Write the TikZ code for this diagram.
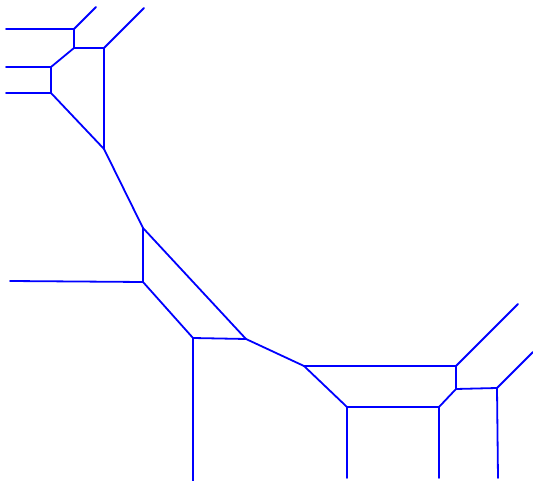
\documentclass[tikz,border=0pt]{standalone}
\usepackage{tikz}
\usetikzlibrary{calc}
\definecolor{edgeblue}{HTML}{0000FF}
\tikzset{
  vedge/.style={edgeblue, line width=1.8pt, line cap=round, line join=round},
}
\begin{document}
\begin{tikzpicture}[x=1pt,y=-1pt]
  \useasboundingbox (0,0) rectangle (533,481);
  % inner vertices
  \coordinate (a) at (74,29);
  \coordinate (b) at (74,48);
  \coordinate (c) at (104,48);
  \coordinate (d) at (51,67);
  \coordinate (e) at (51,93);
  \coordinate (f) at (104,149);
  \coordinate (g) at (143,228);
  \coordinate (h) at (143,282);
  \coordinate (i) at (193,338);
  \coordinate (j) at (246,339);
  \coordinate (k) at (304,366);
  \coordinate (l) at (456,366);
  \coordinate (m) at (456,389);
  \coordinate (n) at (497,388);
  \coordinate (o) at (347,407);
  \coordinate (p) at (439,407);
  % free ends
  \coordinate (a1) at (6,29);
  \coordinate (a2) at (96,7);
  \coordinate (c1) at (144,8);
  \coordinate (d1) at (6,67);
  \coordinate (e1) at (6,93);
  \coordinate (h1) at (10,281);
  \coordinate (i1) at (193,481);
  \coordinate (l1) at (518,304);
  \coordinate (n1) at (533,352);
  \coordinate (n2) at (498,478);
  \coordinate (o1) at (347,478);
  \coordinate (p1) at (439,478);
  % edges
  \draw[vedge] (a1)--(a)--(a2);
  \draw[vedge] (a)--(b)--(c)--(c1);
  \draw[vedge] (b)--(d)--(d1);
  \draw[vedge] (d)--(e)--(e1);
  \draw[vedge] (e)--(f)--(c);
  \draw[vedge] (f)--(g)--(h)--(h1);
  \draw[vedge] (g)--(j)--(i)--(h);
  \draw[vedge] (i)--(i1);
  \draw[vedge] (j)--(k)--(l)--(l1);
  \draw[vedge] (k)--(o)--(p)--(m)--(l);
  \draw[vedge] (m)--(n)--(n1);
  \draw[vedge] (n)--(n2);
  \draw[vedge] (o)--(o1);
  \draw[vedge] (p)--(p1);
\end{tikzpicture}
\end{document}
